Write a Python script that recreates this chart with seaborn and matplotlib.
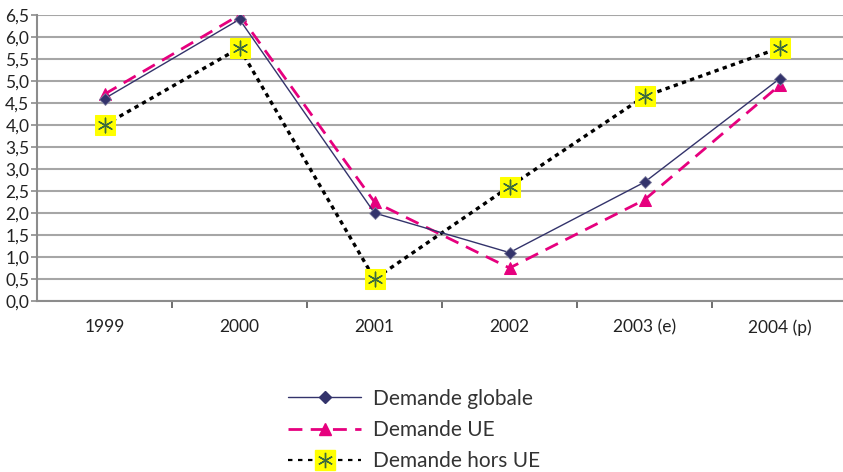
import matplotlib
matplotlib.use("Agg")
import matplotlib.pyplot as plt
from matplotlib.lines import Line2D
from matplotlib.legend_handler import HandlerTuple
from matplotlib.ticker import FuncFormatter, MultipleLocator, FixedLocator
import seaborn as sns
import pandas as pd

years = ["1999", "2000", "2001", "2002", "2003 (e)", "2004 (p)"]
demande_globale = [4.6, 6.4, 2.0, 1.1, 2.7, 5.05]
demande_ue = [4.7, 6.5, 2.25, 0.75, 2.3, 4.9]
demande_hors_ue = [4.0, 5.75, 0.5, 2.6, 4.65, 5.75]

labels = ["Demande globale", "Demande UE", "Demande hors UE"]

sns.set_style("white")
plt.rcParams["font.family"] = ["Lato", "DejaVu Sans"]

fig = plt.figure(figsize=(8.43, 4.72), dpi=100)
ax = fig.add_axes([37 / 843, 171 / 472, 810 / 843, 286 / 472])

NAVY = "#33336b"
MAGENTA = "#e6007e"
YELLOW = "#ffff00"
STAR = "#3d6b3d"

df = pd.DataFrame({"annee": years, "globale": demande_globale,
                   "ue": demande_ue, "hors": demande_hors_ue})

# Demande hors UE: dotted black line with yellow square markers + asterisk
sns.lineplot(data=df, x="annee", y="hors", ax=ax, color="black", lw=2.4,
             linestyle=(0, (1.3, 1.3)), marker="s", markersize=14,
             markerfacecolor=YELLOW, markeredgecolor=YELLOW, zorder=3,
             sort=False)
sns.scatterplot(data=df, x="annee", y="hors", ax=ax, marker=(6, 2, 0),
                s=110, color=STAR, linewidth=1.0, zorder=4)

# Demande globale: thin navy line with diamonds
sns.lineplot(data=df, x="annee", y="globale", ax=ax, color=NAVY, lw=1.0,
             marker="D", markersize=6.5, markerfacecolor=NAVY,
             markeredgecolor="#8080a0", markeredgewidth=0.6, zorder=5,
             sort=False)

# Demande UE: dashed magenta line with triangles
sns.lineplot(data=df, x="annee", y="ue", ax=ax, color=MAGENTA, lw=2.0,
             linestyle=(0, (5, 3)), marker="^", markersize=9,
             markerfacecolor=MAGENTA, markeredgecolor=MAGENTA, zorder=4,
             sort=False)

ax.set_xlim(-0.5, len(years) - 0.5)
ax.set_ylim(0, 6.5)
ax.yaxis.set_major_locator(MultipleLocator(0.5))
ax.yaxis.set_major_formatter(FuncFormatter(lambda v, p: f"{v:.1f}".replace(".", ",")))
ax.grid(axis="y", color="#a6a6a6", lw=1.5)
ax.set_axisbelow(True)
ax.set_xlabel("")
ax.set_ylabel("")

ax.xaxis.set_minor_locator(FixedLocator([i + 0.5 for i in range(len(years) - 1)]))
ax.tick_params(axis="x", which="major", length=0, pad=13, labelsize=12.5,
               labelcolor="#222222")
ax.tick_params(axis="x", which="minor", length=5, width=1.2, color="#555555",
               direction="out", bottom=True)
ax.tick_params(axis="y", which="major", length=4, width=1.2, color="#8c8c8c",
               direction="out", left=True, labelsize=12.5, pad=1.5,
               labelcolor="#222222")

for s in ["top", "right"]:
    ax.spines[s].set_visible(False)
ax.spines["left"].set_color("#8c8c8c")
ax.spines["left"].set_linewidth(1.5)
ax.spines["bottom"].set_color("#8c8c8c")
ax.spines["bottom"].set_linewidth(1.5)

h_glob = Line2D([], [], color=NAVY, lw=1.0, marker="D", markersize=6.5,
                markerfacecolor=NAVY, markeredgecolor=NAVY)
h_ue = Line2D([], [], color=MAGENTA, lw=2.0, linestyle=(0, (5, 3)),
              marker="^", markersize=9, markerfacecolor=MAGENTA,
              markeredgecolor=MAGENTA)
h_hors_line = Line2D([], [], color="black", lw=1.6, linestyle=(0, (2, 2.5)),
                     marker="s", markersize=14, markerfacecolor=YELLOW,
                     markeredgecolor=YELLOW)
h_hors_star = Line2D([], [], lw=0, marker=(6, 2, 0), markersize=11,
                     color=STAR, markeredgewidth=1.0)

fig.legend([h_glob, h_ue, (h_hors_line, h_hors_star)], labels,
           handler_map={tuple: HandlerTuple(ndivide=1)},
           loc="center", bbox_to_anchor=(414 / 843, 1 - 430 / 472),
           frameon=False, fontsize=15, handlelength=3.5,
           labelspacing=0.55, handletextpad=0.55, labelcolor="#333333")

fig.savefig("out.png", dpi=100)
